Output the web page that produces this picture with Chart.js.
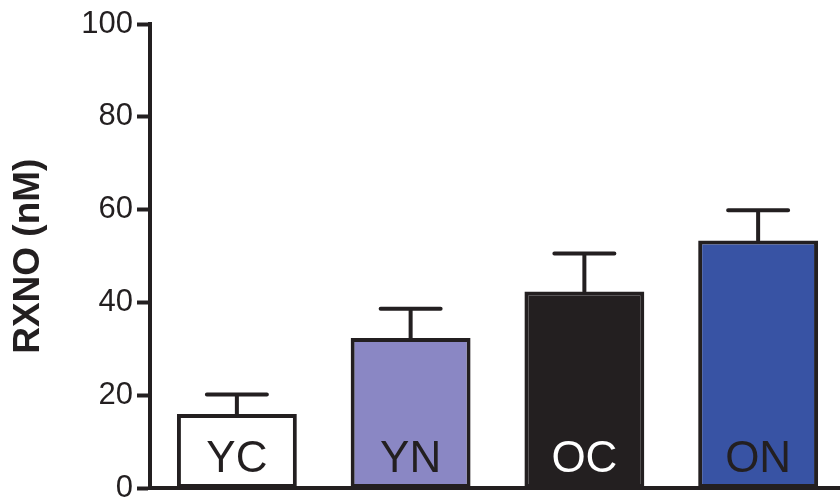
<!DOCTYPE html>
<html>
<head>
<meta charset="utf-8">
<title>RXNO</title>
<script src="https://cdn.jsdelivr.net/npm/chart.js@4/dist/chart.umd.min.js"></script>
<style>
  html, body { margin: 0; padding: 0; background: #fff; overflow: hidden; }
  #wrap { width: 840px; height: 497px; overflow: hidden; }
</style>
</head>
<body>
<div id="wrap"><canvas id="rxnoChart" width="848" height="511"></canvas></div>
<script>
// group means and SEM (nM)
const groups = ['YC', 'YN', 'OC', 'ON'];
const rxnoMean = [16, 32.4, 42.4, 53.4];
const rxnoErr = [4.2, 6.3, 8.2, 6.5];
const yTicks = [0, 20, 40, 60, 80, 100];

const ink = '#231f20';
const barFills = ['#ffffff', '#8a87c4', '#231f20', '#3853a4'];
const labelInk = ['#231f20', '#231f20', '#ffffff', '#231f20'];

// upward-only error bars with a flat cap
const errorBars = {
  id: 'errorBars',
  afterDatasetsDraw(chart) {
    const { ctx, scales: { y } } = chart;
    const meta = chart.getDatasetMeta(0);
    ctx.save();
    ctx.strokeStyle = ink;
    ctx.lineWidth = 4;
    ctx.lineCap = 'round';
    meta.data.forEach((bar, i) => {
      const top = y.getPixelForValue(rxnoMean[i]);
      const cap = y.getPixelForValue(rxnoMean[i] + rxnoErr[i]);
      ctx.beginPath();
      ctx.moveTo(bar.x, top);
      ctx.lineTo(bar.x, cap);
      ctx.moveTo(bar.x - 30, cap);
      ctx.lineTo(bar.x + 30, cap);
      ctx.stroke();
    });
    ctx.restore();
  }
};

// group names written inside the bars
const barNames = {
  id: 'barNames',
  afterDatasetsDraw(chart) {
    const { ctx, scales: { y } } = chart;
    const meta = chart.getDatasetMeta(0);
    ctx.save();
    ctx.font = '44px "Liberation Sans", Arial, sans-serif';
    ctx.textAlign = 'center';
    ctx.textBaseline = 'alphabetic';
    meta.data.forEach((bar, i) => {
      ctx.fillStyle = labelInk[i];
      ctx.fillText(groups[i], bar.x, y.getPixelForValue(0) - 16);
    });
    ctx.restore();
  }
};

new Chart(document.getElementById('rxnoChart'), {
  type: 'bar',
  data: {
    labels: groups,
    datasets: [{
      data: rxnoMean,
      backgroundColor: barFills,
      borderColor: ink,
      borderWidth: 4,
      borderSkipped: false,
      barPercentage: 0.92,
      categoryPercentage: 0.75
    }]
  },
  options: {
    responsive: false,
    animation: false,
    layout: { padding: { left: 0, right: 3, top: 24, bottom: 10 } },
    plugins: {
      legend: { display: false },
      tooltip: { enabled: false }
    },
    scales: {
      x: {
        grid: { display: false },
        ticks: { display: false },
        border: { display: true, color: ink, width: 4 },
        afterFit(scale) {
          scale.height = 0;
        }
      },
      y: {
        min: 0,
        max: 100,
        afterBuildTicks(scale) {
          scale.ticks = yTicks.map(v => ({ value: v }));
        },
        afterFit(scale) {
          scale.width = 150;
        },
        grid: {
          drawOnChartArea: false,
          drawTicks: true,
          tickLength: 13,
          tickWidth: 4,
          tickColor: ink
        },
        border: { color: ink, width: 4 },
        ticks: {
          color: ink,
          padding: 4,
          font: { family: '"Liberation Sans", Arial, sans-serif', size: 31 }
        },
        title: {
          display: true,
          text: 'RXNO (nM)',
          color: ink,
          padding: { top: 7, bottom: 0 },
          font: { family: '"Liberation Sans", Arial, sans-serif', size: 37, weight: 'bold' }
        }
      }
    }
  },
  plugins: [errorBars, barNames]
});
</script>
</body>
</html>
